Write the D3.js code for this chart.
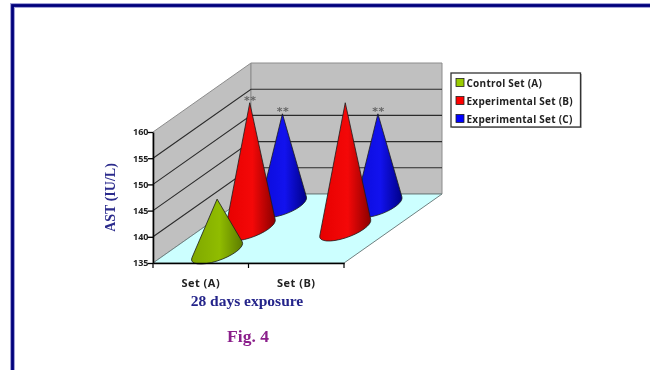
<!DOCTYPE html>
<html lang="en">
<head>
  <meta charset="UTF-8">
  <title>Fig. 4</title>
  <script src="https://d3js.org/d3.v7.min.js" charset="utf-8"></script>
  <style>
    html, body { margin: 0; background: #fff; overflow: hidden; }
    svg { display: block; filter: blur(0.45px); }
    .tick text, .legend-label { font-family: 'Open Sans', sans-serif; font-weight: 700; fill: #222; }
    .serif { font-family: 'Liberation Serif', serif; font-weight: 700; }
  </style>
</head>
<body>
  <div id="wrapper"></div>
  <script>
    const categories = ['Set (A)', 'Set (B)']
    const seriesNames = ['Control Set (A)', 'Experimental Set (B)', 'Experimental Set (C)']
    const controlValues = [145, null]
    const setBValues = [159, 159]
    const setCValues = [152.5, 152.5]
    const controlStars = ['', '']
    const setBStars = ['**', '']
    const setCStars = ['**', '**']
    const yTicks = [135, 140, 145, 150, 155, 160]

    const seriesValues = [controlValues, setBValues, setCValues]
    const seriesStars = [controlStars, setBStars, setCStars]

    const width = 650
    const height = 370
    const depth = { x: 98, y: -69 }

    const svg = d3.select('#wrapper').append('svg')
      .attr('width', width)
      .attr('height', height)

    // page frame, runs off the right and bottom edges
    const frame = svg.append('g')
    frame.append('rect').attr('x', 12.5).attr('y', 5.5).attr('width', 700).attr('height', 500)
      .attr('fill', 'none').attr('stroke', '#a4a4d8').attr('stroke-width', 5)
    frame.append('rect').attr('x', 12.5).attr('y', 5.5).attr('width', 700).attr('height', 500)
      .attr('fill', 'none').attr('stroke', '#00007c').attr('stroke-width', 2.8)

    const xScale = d3.scaleBand().domain(categories).range([153, 344])
    const yScale = d3.scaleLinear().domain([135, 160]).range([263, 132])
    const depthScale = d3.scaleBand().domain(seriesNames).range([0, 1])

    const project = (x, y, f) => [x + depth.x * f, y + depth.y * f]
    const line = d3.line()

    const x0 = xScale.range()[0]
    const x1 = xScale.range()[1]
    const yBottom = yScale(135)
    const yTop = yScale(160)

    // walls and floor
    const walls = svg.append('g')
    walls.append('path')
      .attr('d', line([[x0, yTop], project(x0, yTop, 1), project(x0, yBottom, 1), [x0, yBottom]]) + 'Z')
      .attr('fill', '#c0c0c0').attr('stroke', '#8c8c8c')
    walls.append('path')
      .attr('d', line([project(x0, yTop, 1), project(x1, yTop, 1), project(x1, yBottom, 1), project(x0, yBottom, 1)]) + 'Z')
      .attr('fill', '#c0c0c0').attr('stroke', '#8c8c8c')
    walls.append('path')
      .attr('d', line([[x0, yBottom], [x1, yBottom], project(x1, yBottom, 1), project(x0, yBottom, 1)]) + 'Z')
      .attr('fill', '#ccffff').attr('stroke', '#6f8080')

    walls.selectAll('.grid')
      .data(yTicks.filter(d => d > 135 && d < 160))
      .join('path')
      .attr('class', 'grid')
      .attr('d', d => line([[x0, yScale(d)], project(x0, yScale(d), 1), project(x1, yScale(d), 1)]))
      .attr('fill', 'none')
      .attr('stroke', '#2b2b2b')
      .attr('stroke-width', 1.1)

    // gradients, one per series
    const gradientStops = [
      ['#7fa800', '#90bc00', '#5c7c00'],
      ['#e60000', '#f40808', '#8a0000'],
      ['#0a0ad8', '#1212ee', '#000088']
    ]
    const defs = svg.append('defs')
    gradientStops.forEach((stops, i) => {
      const g = defs.append('linearGradient').attr('id', `cone-${i}`)
      g.append('stop').attr('offset', '0%').attr('stop-color', stops[0])
      g.append('stop').attr('offset', '55%').attr('stop-color', stops[1])
      g.append('stop').attr('offset', '100%').attr('stop-color', stops[2])
    })

    // cone outline: apex, tangent to the tilted base ellipse, round the front, back to the apex
    const tilt = -20 * Math.PI / 180
    const conePath = (cx, cy, ax, ay, a, b) => {
      const dx = ax - cx
      const dy = ay - cy
      const px = (dx * Math.cos(tilt) + dy * Math.sin(tilt)) / a
      const py = (-dx * Math.sin(tilt) + dy * Math.cos(tilt)) / b
      const phi = Math.atan2(py, px)
      const spread = Math.acos(1 / Math.hypot(px, py))
      const at = t => {
        const u = a * Math.cos(t)
        const v = b * Math.sin(t)
        return [cx + u * Math.cos(tilt) - v * Math.sin(tilt), cy + u * Math.sin(tilt) + v * Math.cos(tilt)]
      }
      const right = at(phi + spread)
      const left = at(phi - spread)
      const rot = tilt * 180 / Math.PI
      return `M${ax},${ay}L${right[0]},${right[1]}A${a},${b} ${rot} 1 1 ${left[0]},${left[1]}Z`
    }

    const baseRadius = [27, 27, 25.5]
    const baseMinor = 9

    const conesLayer = svg.append('g')
    const starsLayer = svg.append('g')

    // furthest series first so nearer cones sit on top
    d3.range(seriesNames.length - 1, -1, -1).forEach(i => {
      const f = depthScale(seriesNames[i]) + depthScale.bandwidth() / 2
      categories.forEach((cat, j) => {
        const v = seriesValues[i][j]
        if (v === null) return
        const frontX = xScale(cat) + xScale.bandwidth() / 2
        const [cx, cy] = project(frontX, yBottom, f)
        const [ax, ay] = project(frontX, yScale(v), f)
        conesLayer.append('path')
          .attr('d', conePath(cx, cy, ax, ay, baseRadius[i], baseMinor))
          .attr('fill', `url(#cone-${i})`)
          .attr('stroke', '#1c1c1c')
          .attr('stroke-width', 0.8)
        starsLayer.append('text')
          .attr('x', ax + 0.5)
          .attr('y', ay + 1)
          .attr('text-anchor', 'middle')
          .attr('fill', '#666')
          .style('font-family', "'DejaVu Sans', sans-serif")
          .style('font-weight', 700)
          .style('font-size', '11px')
          .style('letter-spacing', '0.5px')
          .text(seriesStars[i][j])
      })
    })

    // axes
    const yAxis = svg.append('g')
      .attr('transform', `translate(${x0}, 0)`)
      .call(d3.axisLeft(yScale).tickValues(yTicks).tickSize(5).tickSizeOuter(0))
    yAxis.select('.domain').attr('stroke', '#000').attr('stroke-width', 1.6)
    yAxis.selectAll('.tick line').attr('stroke', '#000').attr('stroke-width', 1.3)
    yAxis.selectAll('.tick text').attr('x', -4.5).style('font-size', '9px')

    const xAxis = svg.append('g')
      .attr('transform', `translate(0, ${yBottom})`)
      .call(d3.axisBottom(xScale).tickSize(0).tickSizeOuter(0))
    xAxis.select('.domain').attr('stroke', '#000').attr('stroke-width', 1.4)
    xAxis.selectAll('.tick text').attr('y', 16).style('font-size', '11px').style('letter-spacing', '0.5px')
    // tick marks sit on the category boundaries
    xAxis.selectAll('.boundary')
      .data([x0, x0 + xScale.step(), x1])
      .join('line')
      .attr('class', 'boundary')
      .attr('x1', d => d).attr('x2', d => d)
      .attr('y1', 0).attr('y2', 5)
      .attr('stroke', '#000').attr('stroke-width', 1.2)

    // titles
    svg.append('text')
      .attr('class', 'serif')
      .attr('transform', 'translate(115, 197.5) rotate(-90)')
      .attr('text-anchor', 'middle')
      .attr('fill', '#2b2b8c')
      .style('font-size', '14px')
      .text('AST (IU/L)')
    svg.append('text')
      .attr('class', 'serif')
      .attr('x', 247).attr('y', 305.5)
      .attr('text-anchor', 'middle')
      .attr('fill', '#24248a')
      .style('font-size', '15.5px')
      .text('28 days exposure')
    svg.append('text')
      .attr('class', 'serif')
      .attr('x', 248).attr('y', 342)
      .attr('text-anchor', 'middle')
      .attr('fill', '#8b1f8b')
      .style('font-size', '17.5px')
      .text('Fig. 4')

    // legend
    const legend = svg.append('g').attr('transform', 'translate(451, 73)')
    legend.append('rect')
      .attr('x', 1).attr('y', 1).attr('width', 130).attr('height', 54)
      .attr('fill', '#bbb')
    legend.append('rect')
      .attr('width', 129.5).attr('height', 54)
      .attr('fill', '#fff').attr('stroke', '#333').attr('stroke-width', 1.3)
    const swatchColors = ['#99cc00', '#ff0000', '#0000ff']
    const legendRows = legend.selectAll('.row')
      .data(seriesNames)
      .join('g')
      .attr('class', 'row')
      .attr('transform', (d, i) => `translate(5, ${5.5 + i * 18})`)
    legendRows.append('rect')
      .attr('x', 0).attr('y', 0).attr('width', 8).attr('height', 8)
      .attr('fill', (d, i) => swatchColors[i])
      .attr('stroke', '#222').attr('stroke-width', 0.8)
    legendRows.append('text')
      .attr('class', 'legend-label')
      .attr('x', 10.5).attr('y', 8)
      .style('font-size', '10px')
      .style('letter-spacing', '0.25px')
      .text(d => d)
  </script>
</body>
</html>
